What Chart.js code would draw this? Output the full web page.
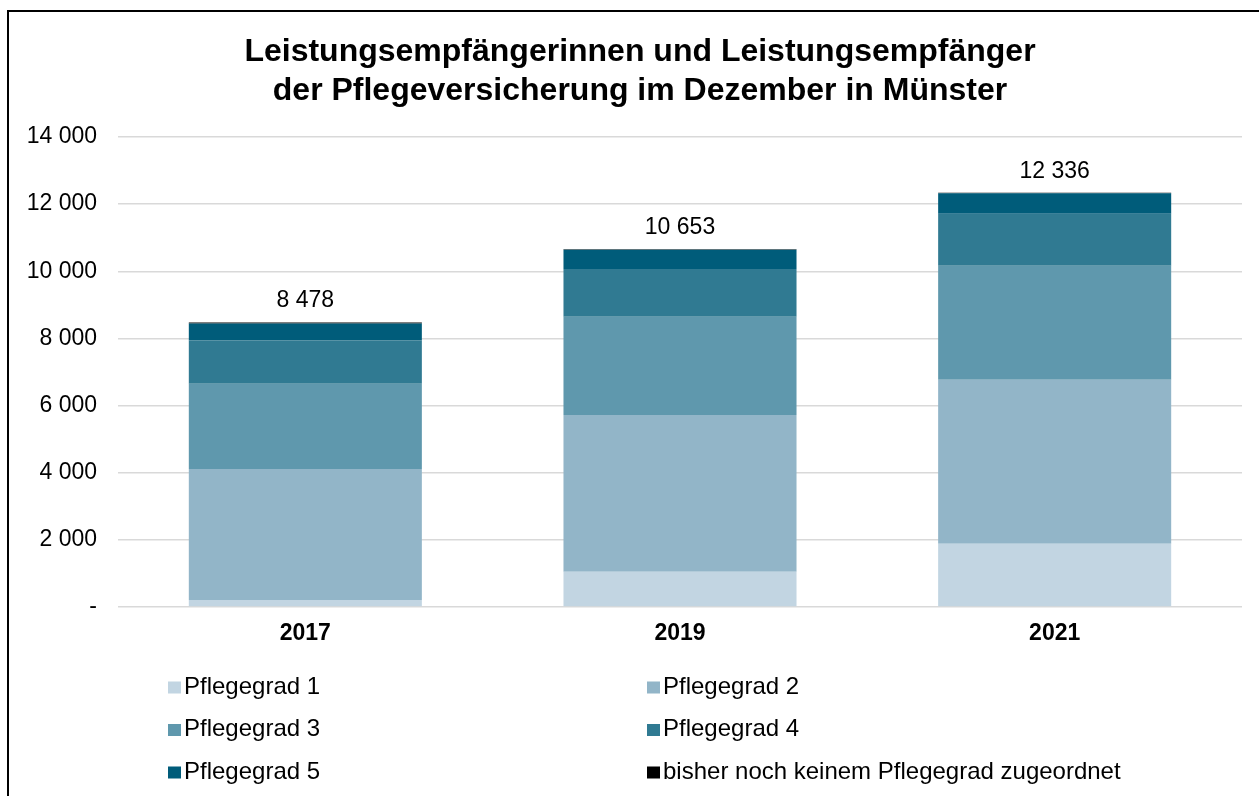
<!DOCTYPE html>
<html lang="de">
<head>
<meta charset="utf-8">
<title>Pflegeversicherung Münster</title>
<script src="https://cdn.jsdelivr.net/npm/chart.js@4"></script>
<style>
  html, body { margin: 0; padding: 0; background: #fff; }
  #wrap { position: relative; width: 1259px; height: 796px; overflow: hidden; }
  #frame { position: absolute; left: 7px; top: 10px; width: 1300px; height: 900px;
           border: 2px solid #000; box-sizing: border-box; }
  canvas { position: absolute; left: 0; top: 0; }
</style>
</head>
<body>
<div id="wrap">
  <div id="frame"></div>
  <canvas id="pflegeChart" width="1259" height="796"></canvas>
</div>
<script>
// Daten
const years = ['2017', '2019', '2021'];
const pg1 = [210, 1052, 1887];
const pg2 = [3904, 4664, 4881];
const pg3 = [2535, 2930, 3399];
const pg4 = [1291, 1423, 1550];
const pg5 = [508, 569, 609];
const ohnePg = [30, 15, 10];
const totals = [8478, 10653, 12336];
const yTicks = [0, 2000, 4000, 6000, 8000, 10000, 12000, 14000];

const FONT = 'Liberation Sans, Arial, sans-serif';

function fmt(v) {
    if (v === 0) return '-';
    return String(v).replace(/\B(?=(\d{3})+(?!\d))/g, ' ');
}

// Title, totals and legend drawn on the canvas
const extras = {
    id: 'extras',
    afterDraw(chart) {
        const c = chart.ctx;
        c.save();
        c.fillStyle = '#000';
        c.textAlign = 'center';
        c.textBaseline = 'alphabetic';
        c.font = 'bold 32px ' + FONT;
        c.fillText('Leistungsempfängerinnen und Leistungsempfänger', 640, 61);
        c.fillText('der Pflegeversicherung im Dezember in Münster', 640, 99.5);

        // totals above the stacks
        c.font = '23px ' + FONT;
        const x = chart.scales.x, y = chart.scales.y;
        totals.forEach((t, i) => {
            c.fillText(fmt(t), x.getPixelForValue(i), y.getPixelForValue(t) - 15);
        });

        // legend, two columns
        c.textAlign = 'left';
        c.font = '24px ' + FONT;
        chart.data.datasets.forEach((ds, i) => {
            const col = i % 2, row = Math.floor(i / 2);
            const lx = col === 0 ? 168 : 647;
            const base = 693.5 + row * 42.5;
            c.fillStyle = ds.backgroundColor;
            c.fillRect(lx, base - 12, 13, 12);
            c.fillStyle = '#000';
            c.fillText(ds.label, lx + 16, base);
        });
        c.restore();
    }
};

const ctx = document.getElementById('pflegeChart').getContext('2d');
const pflegeChart = new Chart(ctx, {
    type: 'bar',
    data: {
        labels: years,
        datasets: [
            { label: 'Pflegegrad 1', data: pg1, backgroundColor: '#c2d5e2' },
            { label: 'Pflegegrad 2', data: pg2, backgroundColor: '#92b5c8' },
            { label: 'Pflegegrad 3', data: pg3, backgroundColor: '#5f98ad' },
            { label: 'Pflegegrad 4', data: pg4, backgroundColor: '#307a92' },
            { label: 'Pflegegrad 5', data: pg5, backgroundColor: '#005c7a' },
            { label: 'bisher noch keinem Pflegegrad zugeordnet', data: ohnePg, backgroundColor: '#000000' }
        ]
    },
    options: {
        responsive: false,
        animation: false,
        layout: { padding: { top: 137, right: 17, bottom: 139, left: 0 } },
        datasets: { bar: { categoryPercentage: 1, barPercentage: 0.622, borderWidth: 0 } },
        plugins: {
            legend: { display: false },
            title: { display: false },
            tooltip: { enabled: false }
        },
        scales: {
            x: {
                stacked: true,
                afterFit: s => { s.height = 50; },
                grid: { display: false, drawTicks: false },
                border: { display: false },
                ticks: { color: '#000', padding: 13, font: { family: FONT, size: 23, weight: 'bold' } }
            },
            y: {
                stacked: true,
                min: 0,
                max: 14000,
                afterFit: s => { s.width = 118; },
                afterBuildTicks: s => { s.ticks = yTicks.map(v => ({ value: v })); },
                grid: { color: '#d9d9d9', lineWidth: 1.5, drawTicks: false },
                border: { display: false },
                ticks: {
                    color: '#000',
                    padding: 21,
                    font: { family: FONT, size: 23 },
                    callback: v => fmt(v)
                }
            }
        }
    },
    plugins: [extras]
});
</script>
</body>
</html>
